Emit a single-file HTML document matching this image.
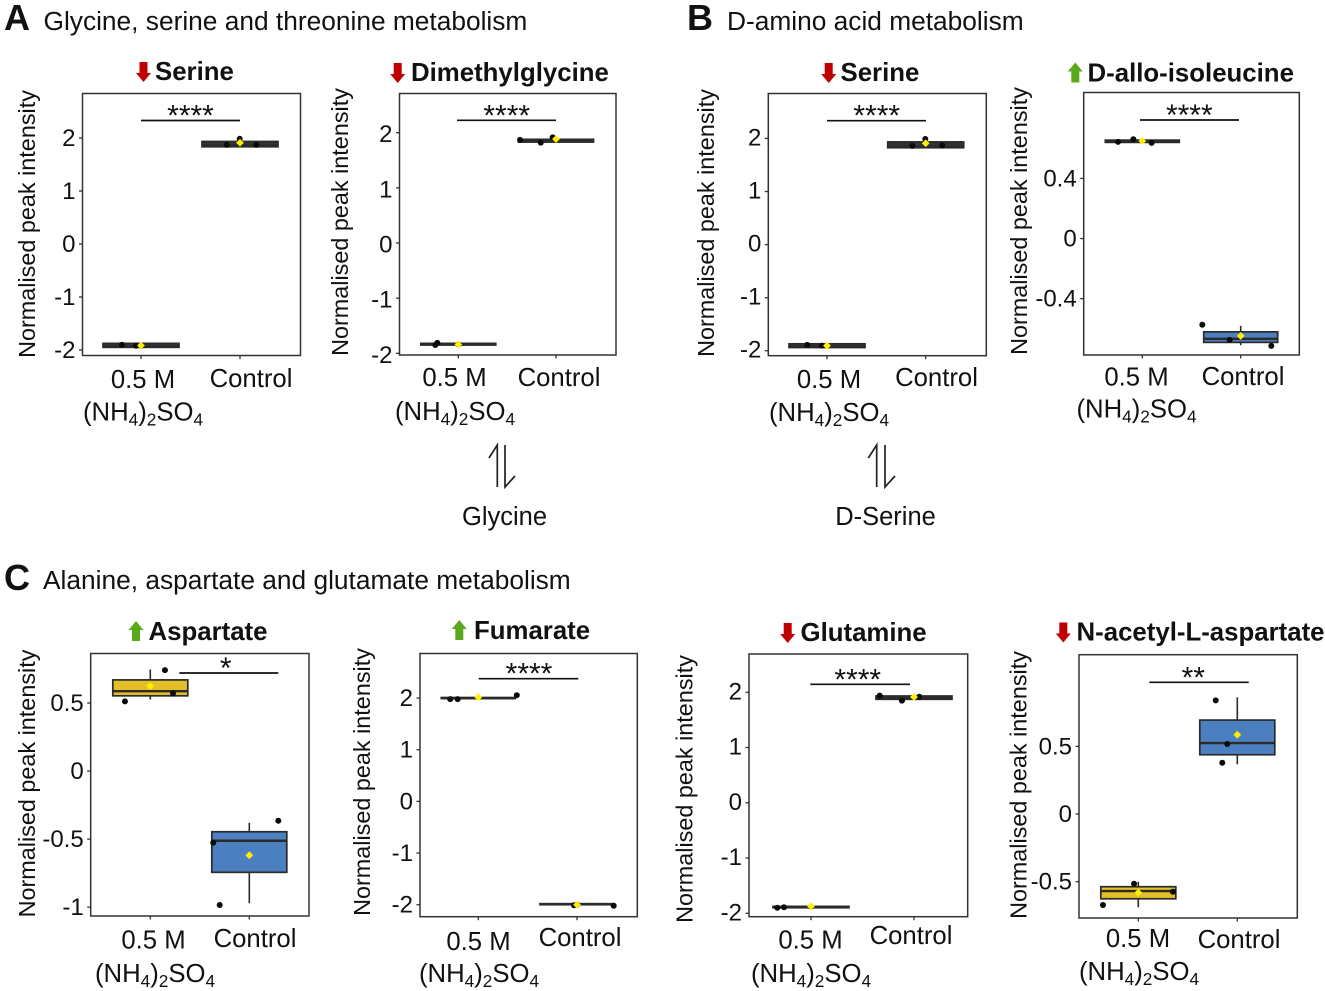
<!DOCTYPE html>
<html lang="en">
<head>
<meta charset="utf-8">
<title>Metabolite box plots</title>
<style>
html,body{margin:0;padding:0;background:#fff;width:1325px;height:991px;overflow:hidden}
svg{display:block}
text{font-family:"Liberation Sans",sans-serif;fill:#111}
</style>
</head>
<body>
<svg id="figure" xmlns="http://www.w3.org/2000/svg" width="1325" height="991" viewBox="0 0 1325 991">
  <rect width="1325" height="991" fill="#fff"/>
  <text x="4" y="30" font-size="36" font-weight="700">A</text>
  <text x="43.5" y="30" font-size="26.3">Glycine, serine and threonine metabolism</text>
  <text x="687" y="30" font-size="36" font-weight="700">B</text>
  <text x="727" y="30" font-size="26.3">D-amino acid metabolism</text>
  <text x="4" y="590" font-size="36" font-weight="700">C</text>
  <text x="43" y="589" font-size="26.3">Alanine, aspartate and glutamate metabolism</text>

  <g fill="none" stroke="#222" stroke-width="1.7">
    <path d="M489 458 L497.3 445 L497.3 487"/>
    <path d="M505 445 L505 487 L515 476"/>
  </g>
  <text x="504.5" y="525" font-size="25.5" text-anchor="middle">Glycine</text>
  <g fill="none" stroke="#222" stroke-width="1.7">
    <path d="M868.3 458 L876.7 445 L876.7 487"/>
    <path d="M885 445 L885 487 L895 476"/>
  </g>
  <text x="885.5" y="525" font-size="25.5" text-anchor="middle">D-Serine</text>
</svg>
<script>
const categories = ["0.5 M", "Control"];
const yAxisTitle = "Normalised peak intensity";

// Each box array reads: low whisker, Q1, median, Q3, high whisker.
const serineATicks = [2, 1, 0, -1, -2];
const serineATreatBox = [-1.95, -1.95, -1.93, -1.875, -1.875];
const serineAControlBox = [1.835, 1.835, 1.85, 1.935, 1.935];
const serineATreatPoints = [-1.9, -1.92, -1.92];
const serineAControlPoints = [1.87, 1.985, 1.87];
const serineATreatJitter = [-0.192, -0.05, 0];
const serineAControlJitter = [-0.134, -0.003, 0.165];
const serineAMeans = [-1.915, 1.91];

const dimethylglycineTicks = [2, 1, 0, -1, -2];
const dimethylglycineTreatBox = [-1.85, -1.85, -1.84, -1.82, -1.82];
const dimethylglycineControlBox = [1.82, 1.83, 1.85, 1.88, 1.88];
const dimethylglycineTreatPoints = [-1.85, -1.81, -1.84];
const dimethylglycineControlPoints = [1.87, 1.82, 1.915];
const dimethylglycineTreatJitter = [-0.235, -0.215, 0];
const dimethylglycineControlJitter = [-0.368, -0.156, -0.034];
const dimethylglycineMeans = [-1.84, 1.885];

const serineBTicks = [2, 1, 0, -1, -2];
const serineBTreatBox = [-1.94, -1.94, -1.92, -1.87, -1.87];
const serineBControlBox = [1.825, 1.825, 1.84, 1.935, 1.935];
const serineBTreatPoints = [-1.89, -1.905, -1.91];
const serineBControlPoints = [1.86, 1.99, 1.87];
const serineBTreatJitter = [-0.2, -0.05, 0];
const serineBControlJitter = [-0.136, -0.004, 0.168];
const serineBMeans = [-1.905, 1.91];

const alloIsoleucineTicks = [0.4, 0, -0.4];
const alloIsoleucineTreatBox = [0.64, 0.64, 0.648, 0.655, 0.655];
const alloIsoleucineControlBox = [-0.71, -0.691, -0.667, -0.621, -0.581];
const alloIsoleucineTreatPoints = [0.643, 0.661, 0.637];
const alloIsoleucineControlPoints = [-0.574, -0.674, -0.714];
const alloIsoleucineTreatJitter = [-0.247, -0.091, 0.095];
const alloIsoleucineControlJitter = [-0.39, -0.112, 0.311];
const alloIsoleucineMeans = [0.649, -0.648];

const aspartateTicks = [0.5, 0, -0.5, -1];
const aspartateTreatBox = [0.526, 0.553, 0.587, 0.67, 0.747];
const aspartateControlBox = [-0.971, -0.744, -0.512, -0.446, -0.38];
const aspartateTreatPoints = [0.512, 0.742, 0.57];
const aspartateControlPoints = [-0.526, -0.984, -0.365];
const aspartateTreatJitter = [-0.256, 0.148, 0.229];
const aspartateControlJitter = [-0.364, -0.299, 0.293];
const aspartateMeans = [0.624, -0.619];

const fumarateTicks = [2, 1, 0, -1, -2];
const fumarateTreatBox = [1.99, 1.99, 2, 2.01, 2.01];
const fumarateControlBox = [-2, -2, -1.99, -1.98, -1.98];
const fumarateTreatPoints = [1.98, 1.98, 2.056];
const fumarateControlPoints = [-2.01, -2, -2.02];
const fumarateTreatJitter = [-0.284, -0.209, 0.39];
const fumarateControlJitter = [-0.03, 0, 0.372];
const fumarateMeans = [2.017, -2];

const glutamineTicks = [2, 1, 0, -1, -2];
const glutamineTreatBox = [-1.9, -1.9, -1.886, -1.875, -1.875];
const glutamineControlBox = [1.873, 1.873, 1.9, 1.933, 1.933];
const glutamineTreatPoints = [-1.9, -1.89, -1.88];
const glutamineControlPoints = [1.94, 1.848, 1.92];
const glutamineTreatJitter = [-0.327, -0.262, 0];
const glutamineControlJitter = [-0.333, -0.117, 0.051];
const glutamineMeans = [-1.874, 1.915];

const acetylAspartateTicks = [0.5, 0, -0.5];
const acetylAspartateTreatBox = [-0.689, -0.626, -0.569, -0.537, -0.5];
const acetylAspartateControlBox = [0.367, 0.438, 0.524, 0.694, 0.862];
const acetylAspartateTreatPoints = [-0.515, -0.574, -0.672];
const acetylAspartateControlPoints = [0.84, 0.517, 0.379];
const acetylAspartateTreatJitter = [-0.043, 0.35, -0.357];
const acetylAspartateControlJitter = [-0.218, -0.101, -0.152];
const acetylAspartateMeans = [-0.581, 0.586];

const NS = "http://www.w3.org/2000/svg";
const YELLOW = "#e2bf28", BLUE = "#4c7fc0", DARK = "#333333";
const svg = document.getElementById("figure");

const panels = [
  {id:"serine-a", title:"Serine", dir:"down", L:82.5, R:300.5, T:93.5, B:355.5, yMin:-2.104, yMax:2.84, catA:141, catB:240, hw:38, labelDy:0,
   arrowX:143.5, titleX:155, titleY:80, sigA:141, sigB:240, sigY:120.5, sigX:190.5, sig:"****", ylabX:35, ylabY:224,
   aX:143, aY:388, cX:251, cY:387, fX:83, fY:420.5, fillA:DARK, fillB:DARK,
   ticks:serineATicks, boxA:serineATreatBox, boxB:serineAControlBox, ptsA:serineATreatPoints, ptsB:serineAControlPoints, jitA:serineATreatJitter, jitB:serineAControlJitter, means:serineAMeans},
  {id:"dimethylglycine", title:"Dimethylglycine", dir:"down", L:399.5, R:616, T:93.5, B:355, yMin:-2.031, yMax:2.711, catA:458.3, catB:556, hw:37.5, labelDy:1.5,
   arrowX:397.7, titleX:411, titleY:81, sigA:457, sigB:556, sigY:120.3, sigX:506.7, sig:"****", ylabX:348, ylabY:222,
   aX:454.5, aY:386, cX:559, cY:386, fX:395, fY:420, fillA:DARK, fillB:DARK,
   ticks:dimethylglycineTicks, boxA:dimethylglycineTreatBox, boxB:dimethylglycineControlBox, ptsA:dimethylglycineTreatPoints, ptsB:dimethylglycineControlPoints, jitA:dimethylglycineTreatJitter, jitB:dimethylglycineControlJitter, means:dimethylglycineMeans},
  {id:"serine-b", title:"Serine", dir:"down", L:768.3, R:986.3, T:93.5, B:355.7, yMin:-2.094, yMax:2.847, catA:827, catB:925.7, hw:38, labelDy:-1,
   arrowX:828.7, titleX:840.5, titleY:81, sigA:827, sigB:926, sigY:120.7, sigX:876.7, sig:"****", ylabX:714, ylabY:223,
   aX:829, aY:388, cX:936.5, cY:386, fX:769, fY:421, fillA:DARK, fillB:DARK,
   ticks:serineBTicks, boxA:serineBTreatBox, boxB:serineBControlBox, ptsA:serineBTreatPoints, ptsB:serineBControlPoints, jitA:serineBTreatJitter, jitB:serineBControlJitter, means:serineBMeans},
  {id:"d-allo-isoleucine", title:"D-allo-isoleucine", dir:"up", L:1083.7, R:1299.3, T:92.5, B:355, yMin:-0.775, yMax:0.972, catA:1142.3, catB:1240.7, hw:37, labelDy:0,
   arrowX:1075.3, titleX:1087.5, titleY:81.5, sigA:1140, sigB:1239, sigY:120, sigX:1189.3, sig:"****", ylabX:1027, ylabY:221,
   aX:1136.5, aY:385.5, cX:1243, cY:385, fX:1076.5, fY:417.5, fillA:DARK, fillB:BLUE,
   ticks:alloIsoleucineTicks, boxA:alloIsoleucineTreatBox, boxB:alloIsoleucineControlBox, ptsA:alloIsoleucineTreatPoints, ptsB:alloIsoleucineControlPoints, jitA:alloIsoleucineTreatJitter, jitB:alloIsoleucineControlJitter, means:alloIsoleucineMeans},
  {id:"aspartate", title:"Aspartate", dir:"up", L:90.7, R:309, T:653.5, B:916, yMin:-1.065, yMax:0.864, catA:150.3, catB:249.3, hw:37.5, labelDy:0,
   arrowX:136, titleX:148.5, titleY:640, sigA:179.3, sigB:278.3, sigY:673, sigX:225.7, sig:"*", ylabX:35, ylabY:783.5,
   aX:153.5, aY:948.5, cX:255, cY:947, fX:95, fY:982, fillA:YELLOW, fillB:BLUE,
   ticks:aspartateTicks, boxA:aspartateTreatBox, boxB:aspartateControlBox, ptsA:aspartateTreatPoints, ptsB:aspartateControlPoints, jitA:aspartateTreatJitter, jitB:aspartateControlJitter, means:aspartateMeans},
  {id:"fumarate", title:"Fumarate", dir:"up", L:420, R:637.3, T:653.5, B:916.7, yMin:-2.232, yMax:2.863, catA:478.3, catB:577, hw:37, labelDy:0,
   arrowX:459.3, titleX:474, titleY:639, sigA:478.7, sigB:578.3, sigY:678.7, sigX:529, sig:"****", ylabX:370, ylabY:782,
   aX:478.5, aY:950, cX:580, cY:946, fX:419, fY:982, fillA:DARK, fillB:DARK,
   ticks:fumarateTicks, boxA:fumarateTreatBox, boxB:fumarateControlBox, ptsA:fumarateTreatPoints, ptsB:fumarateControlPoints, jitA:fumarateTreatJitter, jitB:fumarateControlJitter, means:fumarateMeans},
  {id:"glutamine", title:"Glutamine", dir:"down", L:749, R:967.7, T:654, B:916.7, yMin:-2.062, yMax:2.693, catA:811, catB:914, hw:38, labelDy:-1,
   arrowX:787.7, titleX:800.5, titleY:641, sigA:810.3, sigB:910, sigY:684.3, sigX:857.7, sig:"****", ylabX:692.7, ylabY:789,
   aX:810.5, aY:948.5, cX:911, cY:944, fX:751, fY:982, fillA:DARK, fillB:DARK,
   ticks:glutamineTicks, boxA:glutamineTreatBox, boxB:glutamineControlBox, ptsA:glutamineTreatPoints, ptsB:glutamineControlPoints, jitA:glutamineTreatJitter, jitB:glutamineControlJitter, means:glutamineMeans},
  {id:"n-acetyl-l-aspartate", title:"N-acetyl-L-aspartate", dir:"down", L:1079, R:1297.3, T:654.7, B:918, yMin:-0.768, yMax:1.177, catA:1138.3, catB:1237.3, hw:37.5, labelDy:0,
   arrowX:1063.3, titleX:1076.5, titleY:640.5, sigA:1149.3, sigB:1248.7, sigY:682.3, sigX:1193.3, sig:"**", ylabX:1026.7, ylabY:785,
   aX:1138, aY:947, cX:1239, cY:948, fX:1079, fY:980, fillA:YELLOW, fillB:BLUE,
   ticks:acetylAspartateTicks, boxA:acetylAspartateTreatBox, boxB:acetylAspartateControlBox, ptsA:acetylAspartateTreatPoints, ptsB:acetylAspartateControlPoints, jitA:acetylAspartateTreatJitter, jitB:acetylAspartateControlJitter, means:acetylAspartateMeans}
];

function make(tag, attrs, parent) {
  const node = document.createElementNS(NS, tag);
  Object.keys(attrs).forEach(function (k) { node.setAttribute(k, attrs[k]); });
  parent.appendChild(node);
  return node;
}

function drawBox(g, p, i, box, fill, yScale, xScale) {
  const cx = xScale(i);
  const w = make("line", {x1:cx, x2:cx, y1:yScale(box[0]), y2:yScale(box[4]), stroke:"#2b2b2b", "stroke-width":1.6}, g);
  
  
  const r = make("rect", {x:cx - p.hw, width:p.hw * 2, y:yScale(box[3]), height:Math.max(0.5, yScale(box[1]) - yScale(box[3])), fill:fill, stroke:"#2b2b2b", "stroke-width":1.7}, g);
  
  
  const m = make("line", {x1:cx - p.hw, x2:cx + p.hw, y1:yScale(box[2]), y2:yScale(box[2]), stroke:"#2b2b2b", "stroke-width":2.4}, g);
  
  
}

function drawPoints(g, p, i, values, jitter, yScale, xScale) {
  values.forEach(function (v, k) {
    const c = make("circle", {cx:xScale(i + jitter[k]), cy:yScale(v), r:3, fill:"#0a0a0a"}, g);
    
    
  });
}

function drawMean(g, p, i, v, yScale, xScale) {
  const x = xScale(i), y = yScale(v), s = 3.9;
  const d = make("polygon", {points:[x, y - s, x + s, y, x, y + s, x - s, y].join(" "), fill:"#ffee00"}, g);
  
  
}

function drawPanel(p) {
  const g = make("g", {}, svg);
  
  

  const yScale = function (v) { return p.B - (v - p.yMin) / (p.yMax - p.yMin) * (p.B - p.T); };
  const xScale = function (u) { return p.catA + u * (p.catB - p.catA); };

  // title with direction arrow
  const a = p.arrowX, t = p.titleY;
  const pts = p.dir === "down"
    ? [a-4,t-18, a+4,t-18, a+4,t-7, a+7.5,t-7, a,t+2, a-7.5,t-7, a-4,t-7]
    : [a-4,t+1, a+4,t+1, a+4,t-10, a+7.5,t-10, a,t-19, a-7.5,t-10, a-4,t-10];
  const arrow = make("polygon", {points:pts.join(" "), fill:p.dir === "down" ? "#c00000" : "#5aa81c"}, g);
  
  

  const title = make("text", {x:p.titleX, y:p.titleY, "font-size":25.8, "font-weight":700}, g);
  title.textContent = p.title;
  
  

  // y axis title
  const yt = make("text", {transform:"translate(" + p.ylabX + "," + p.ylabY + ") rotate(-90)", "font-size":23.4, "text-anchor":"middle"}, g);
  yt.textContent = yAxisTitle;
  
  

  // y ticks
  p.ticks.forEach(function (v) {
    const y = yScale(v);
    const tk = make("line", {x1:p.L - 3.5, x2:p.L, y1:y, y2:y, stroke:"#333", "stroke-width":1.3}, g);
    
    
    const lb = make("text", {x:p.L - 7, y:y + 8 + p.labelDy, "font-size":24, "text-anchor":"end"}, g);
    lb.textContent = String(v);
    
    
  });

  // x ticks
  [0, 1].forEach(function (i) {
    const tk = make("line", {x1:xScale(i), x2:xScale(i), y1:p.B, y2:p.B + 3.5, stroke:"#333", "stroke-width":1.3}, g);
    
    
  });

  // x labels
  const l0 = make("text", {x:p.aX, y:p.aY, "font-size":25.7, "text-anchor":"middle"}, g);
  l0.textContent = categories[0];
  
  
  const l1 = make("text", {x:p.cX, y:p.cY, "font-size":25.7, "text-anchor":"middle"}, g);
  l1.textContent = categories[1];
  
  
  const f = make("text", {x:p.fX, y:p.fY, "font-size":25.7}, g);
  
  
  [["(NH",0,25.7],["4",5,17.2],[")",-5,25.7],["2",5,17.2],["SO",-5,25.7],["4",5,17.2]].forEach(function (s) {
    const ts = make("tspan", {dy:s[1], "font-size":s[2]}, f);
    ts.textContent = s[0];
  });

  // boxes, points, means
  drawBox(g, p, 0, p.boxA, p.fillA, yScale, xScale);
  drawBox(g, p, 1, p.boxB, p.fillB, yScale, xScale);
  drawPoints(g, p, 0, p.ptsA, p.jitA, yScale, xScale);
  drawPoints(g, p, 1, p.ptsB, p.jitB, yScale, xScale);
  drawMean(g, p, 0, p.means[0], yScale, xScale);
  drawMean(g, p, 1, p.means[1], yScale, xScale);

  // frame
  const frame = make("rect", {x:p.L, y:p.T, width:p.R - p.L, height:p.B - p.T, fill:"none", stroke:"#333", "stroke-width":1.5}, g);
  
  

  // significance
  const sl = make("line", {x1:p.sigA, x2:p.sigB, y1:p.sigY, y2:p.sigY, stroke:"#111", "stroke-width":1.7}, g);
  
  
  const st = make("text", {x:p.sigX, y:p.sigY + 5, "font-size":30, "text-anchor":"middle"}, g);
  st.textContent = p.sig;
  
  
}

panels.forEach(drawPanel);
</script>
</body>
</html>
